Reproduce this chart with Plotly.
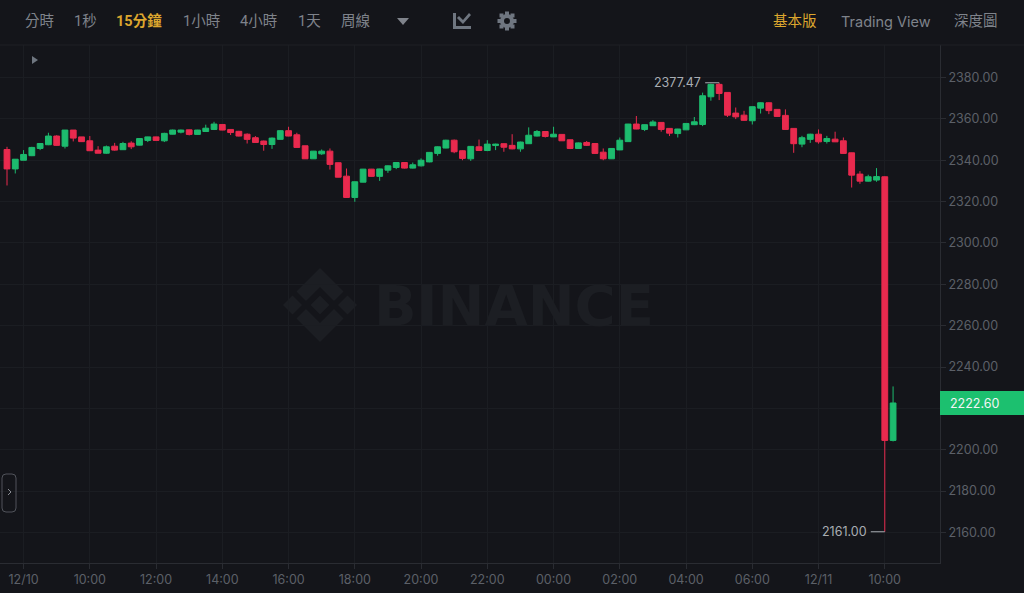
import pandas as pd
import plotly.graph_objects as go

opens = [2345.2,2335.8,2340.0,2342.2,2345.7,2347.5,2351.7,2346.8,2354.6,2351.3,2349.4,2344.9,2343.4,2346.8,2345.1,2348.3,2347.3,2349.6,2351.3,2349.4,2352.6,2353.6,2354.7,2352.5,2353.9,2354.9,2357.3,2354.9,2354.0,
 2352.6,2350.9,2349.3,2347.6,2350.1,2354.3,2352.3,2347.0,2340.7,2343.1,2344.4,2338.8,2332.3,2322.0,2329.4,2335.7,2332.2,2335.2,2336.5,2338.9,2336.2,2337.3,2339.2,2343.3,2345.9,2349.7,2344.6,2340.7,2346.5,
 2344.7,2347.1,2348.0,2347.2,2345.5,2348.0,2351.7,2353.9,2351.3,2352.5,2349.9,2345.7,2348.6,2348.1,2343.9,2340.7,2345.0,2349.0,2357.5,2354.9,2356.7,2358.3,2355.4,2352.9,2354.7,2357.2,2357.3,
 2370.7,2376.7,2372.8,2362.8,2361.8,2359.1,2365.2,2367.8,2364.6,2361.7,2355.4,2347.8,2350.1,2352.6,2349.1,2350.2,2349.4,2343.6,2333.3,2329.9,2330.4,2332.0,2204.5]
closes = [2335.8,2340.5,2342.8,2346.2,2348.1,2351.7,2347.2,2354.6,2350.7,2349.0,2344.6,2343.4,2346.5,2344.9,2348.1,2346.5,2350.5,2351.3,2349.6,2353.0,2354.6,2354.6,2352.5,2354.6,2355.5,2357.5,2354.6,2353.4,2351.7,
 2350.1,2348.6,2347.6,2350.7,2354.3,2351.7,2346.2,2340.7,2344.4,2344.4,2338.0,2331.8,2322.0,2329.6,2335.7,2332.2,2335.8,2337.3,2338.9,2336.2,2337.8,2340.0,2343.8,2346.5,2349.7,2344.1,2340.9,2346.7,2344.7,
 2347.8,2347.8,2346.3,2345.5,2348.8,2352.1,2353.9,2351.5,2352.6,2349.4,2345.7,2348.4,2347.2,2343.3,2340.7,2345.7,2349.7,2357.5,2355.1,2357.2,2358.5,2354.9,2353.1,2355.1,2357.8,2358.6,2371.2,
 2376.7,2372.3,2361.8,2361.0,2359.3,2365.9,2367.8,2364.0,2361.2,2354.9,2348.0,2350.9,2352.6,2348.9,2350.5,2348.9,2343.3,2332.8,2329.9,2332.0,2332.1,2204.5,2222.6]
highs = [2346.5,2340.5,2344.9,2346.5,2348.1,2353.3,2352.1,2354.6,2354.6,2351.3,2351.7,2346.8,2347.1,2348.4,2348.9,2349.2,2350.7,2351.4,2351.4,2353.3,2354.8,2354.8,2354.8,2354.7,2357.2,2358.6,2357.5,2355.0,2354.2,
 2353.0,2351.7,2349.5,2351.0,2354.5,2356.2,2353.3,2347.0,2344.5,2345.2,2345.7,2338.9,2336.0,2329.7,2335.8,2335.8,2335.9,2337.5,2339.1,2339.0,2338.9,2340.9,2344.0,2346.7,2349.9,2350.0,2344.8,2346.8,2350.0,
 2349.7,2348.0,2348.1,2352.6,2349.0,2355.9,2354.6,2354.1,2356.2,2352.7,2350.0,2348.6,2349.3,2348.2,2345.7,2345.8,2351.0,2357.6,2361.4,2357.3,2359.4,2358.5,2355.5,2355.2,2358.0,2360.9,2372.7,
 2377.0,2377.47,2372.9,2365.5,2363.9,2366.0,2368.0,2368.0,2364.7,2364.6,2355.5,2351.8,2352.8,2354.9,2351.8,2353.8,2351.0,2343.7,2334.7,2333.0,2336.2,2332.2,2230.6]
lows = [2327.8,2333.6,2340.0,2342.0,2344.9,2347.3,2347.0,2345.7,2349.1,2348.9,2344.5,2343.4,2343.1,2344.6,2345.0,2345.4,2347.2,2348.8,2349.5,2348.8,2352.5,2353.0,2352.0,2352.4,2353.8,2354.6,2354.5,2352.2,2351.5,
 2348.1,2348.5,2344.6,2345.5,2350.0,2351.6,2346.1,2340.6,2340.6,2342.6,2335.5,2331.7,2321.8,2319.9,2329.3,2332.0,2330.0,2333.9,2335.7,2336.0,2336.0,2337.0,2339.0,2342.2,2345.8,2343.4,2340.0,2339.7,2344.5,
 2344.4,2344.9,2344.1,2345.3,2344.1,2347.9,2351.5,2351.0,2351.2,2349.3,2345.4,2345.6,2346.9,2343.0,2340.0,2340.6,2344.9,2348.9,2355.0,2354.1,2356.6,2353.8,2351.7,2351.0,2354.6,2357.0,2356.5,
 2368.8,2369.1,2360.9,2359.9,2359.1,2357.3,2362.6,2362.3,2361.0,2354.8,2343.6,2346.3,2348.4,2348.0,2348.1,2348.8,2343.2,2326.8,2328.6,2329.7,2329.6,2160.3,2204.0]
times = pd.date_range("2021-12-10 07:30", periods=len(opens), freq="15min")

tick_times = pd.date_range("2021-12-10 08:00", "2021-12-11 10:00", freq="2h")
tick_labels = ["12/10","10:00","12:00","14:00","16:00","18:00","20:00","22:00","00:00","02:00","04:00","06:00","12/11","10:00"]
price_ticks = [2160,2180,2200,2220,2240,2260,2280,2300,2320,2340,2360,2380]
price_labels = ["2160.00","2180.00","2200.00","","2240.00","2260.00","2280.00","2300.00","2320.00","2340.00","2360.00","2380.00"]
toolbar_left = [("分時",39),("1秒",85),("1小時",201),("4小時",258),("1天",309),("周線",355)]
toolbar_right = [("深度圖",976,"#7f838b")]
last_price = "2222.60"
high_label, low_label = "2377.47", "2161.00"

W, H = 1024, 593
L, R, T, B = 0, 84, 45, 30
BG, GRID, AXIS, TXT = "#14151a", "#1b1d22", "#2a2c32", "#5c6068"
RED, GREEN, YEL = "#e92a4e", "#1dbb6e", "#dca62e"
FONT = "Inter, Roboto, 'Noto Sans CJK TC', sans-serif"
CJK = "Roboto, 'Noto Sans CJK TC', sans-serif"

def px(x): return (x - L) / (W - L - R)
def py(y): return 1 - (y - T) / (H - T - B)
def poly(points):
    return "M" + " L".join(f"{px(a):.5f},{py(b):.5f}" for a, b in points) + " Z"

fig = go.Figure(go.Candlestick(
    x=times, open=opens, high=highs, low=lows, close=closes,
    increasing=dict(line=dict(color=GREEN, width=1), fillcolor=GREEN),
    decreasing=dict(line=dict(color=RED, width=1), fillcolor=RED),
    whiskerwidth=0, showlegend=False))

shapes, ann = [], []
def rect(x0, y0, x1, y1, color, line=None, layer="below"):
    shapes.append(dict(type="rect", xref="paper", yref="paper", x0=px(x0), x1=px(x1), y0=py(y0), y1=py(y1),
                       fillcolor=color, line=dict(color=line or color, width=1 if line else 0), layer=layer))
def path(points, color):
    shapes.append(dict(type="path", xref="paper", yref="paper", path=poly(points), fillcolor=color,
                       line=dict(width=0), layer="below"))
def line(x0, y0, x1, y1, color, w=1):
    shapes.append(dict(type="line", xref="paper", yref="paper", x0=px(x0), x1=px(x1), y0=py(y0), y1=py(y1),
                       line=dict(color=color, width=w), layer="above"))
def text(x, y, s, color, size, family=FONT, anchor="center", bold=False):
    ann.append(dict(xref="paper", yref="paper", x=px(x), y=py(y), text=f"<b>{s}</b>" if bold else s, showarrow=False,
                    xanchor=anchor, yanchor="middle", font=dict(color=color, size=size, family=family)))

# toolbar
line(0, 45, 1024, 45, "#1e2025")
for s, x in toolbar_left:
    text(x, 21, s, "#7f838b", 14.5, CJK)
text(139, 21, "15分鐘", YEL, 14.5, CJK, bold=True)
text(795, 22, "基本版", YEL, 14.5, CJK)
text(886, 22, "Trading View", "#7f838b", 14.5, FONT)
for s, x, c in toolbar_right:
    text(x, 22, s, c, 14.5, CJK)
path([(397, 18), (409, 18), (403, 25)], "#7f838b")
# chart icon
ic = "#6f7680"
path([(453, 13), (456, 13), (456, 26), (471, 26), (471, 29), (453, 29)], ic)
path([(457, 18), (459, 16), (463, 20), (469, 13), (471, 15), (463, 24)], ic)
# gear icon
gx, gy = 507, 21
for (a, b) in [(0, -7.5), (0, 7.5), (-7.5, 0), (7.5, 0), (-5.5, -5.5), (5.5, -5.5), (-5.5, 5.5), (5.5, 5.5)]:
    rect(gx + a - 2, gy + b - 2, gx + a + 2, gy + b + 2, ic)
shapes.append(dict(type="circle", xref="paper", yref="paper", x0=px(gx-7), x1=px(gx+7), y0=py(gy-7), y1=py(gy+7),
                   fillcolor=ic, line=dict(width=0), layer="below"))
shapes.append(dict(type="circle", xref="paper", yref="paper", x0=px(gx-3), x1=px(gx+3), y0=py(gy-3), y1=py(gy+3),
                   fillcolor=BG, line=dict(width=0), layer="below"))
path([(32, 56), (38, 60), (32, 64)], "#6f7680")

# watermark
mark = "#1c1e23"
cx, cy = 320, 305
for dx, dy in [(0, 0), (-27.5, 0), (27.5, 0)]:
    path([(cx+dx, cy+dy-9.5), (cx+dx+9.5, cy+dy), (cx+dx, cy+dy+9.5), (cx+dx-9.5, cy+dy)], mark)
for s in (-1, 1):
    path([(cx, cy+s*37), (cx+23.5, cy+s*13.5), (cx+14, cy+s*4), (cx, cy+s*18), (cx-14, cy+s*4), (cx-23.5, cy+s*13.5)], mark)
text(514, 305, "BINANCE", mark, 56, "'DejaVu Sans', sans-serif", bold=True)

# side button
shapes.append(dict(type="path", xref="paper", yref="paper", layer="above", line=dict(color="#50535a", width=1),
                   path=f"M{px(6)},{py(474)} L{px(12)},{py(474)} Q{px(16)},{py(474)} {px(16)},{py(478)} L{px(16)},{py(508)} "
                        f"Q{px(16)},{py(512)} {px(12)},{py(512)} L{px(6)},{py(512)} Q{px(2)},{py(512)} {px(2)},{py(508)} "
                        f"L{px(2)},{py(478)} Q{px(2)},{py(474)} {px(6)},{py(474)} Z"))
line(8, 489, 11, 492, "#8a8d94"); line(11, 492, 8, 495, "#8a8d94")

# current price tag
rect(940, 391, 1024, 415, "#1cc06f", layer="above")
text(975, 403, last_price, "#f2f4f5", 12.5)

# high/low markers
hi, lo = max(highs), min(lows)
for value, when, label in ((hi, times[highs.index(hi)], high_label), (lo, times[lows.index(lo)], low_label)):
    shapes.append(dict(type="line", xref="x", yref="y", xsizemode="pixel", xanchor=when, x0=-14, x1=0, y0=value, y1=value,
                       line=dict(color="#a9adb3", width=1), layer="above"))
    ann.append(dict(xref="x", yref="y", x=when, y=value, text=label, showarrow=False, xanchor="right",
                    xshift=-16, yshift=0, font=dict(color="#a9adb3", size=12.5, family=FONT)))

fig.update_layout(
    width=W, height=H, autosize=False,
    margin=dict(l=L, r=R, t=T, b=B, autoexpand=False),
    paper_bgcolor=BG, plot_bgcolor=BG, boxgap=0.3, boxgroupgap=0, hovermode=False,
    font=dict(family=FONT, color=TXT, size=13),
    shapes=shapes, annotations=ann,
    xaxis=dict(type="date", range=["2021-12-10 07:17:19", "2021-12-11 11:40"], rangeslider=dict(visible=False),
               tickmode="array", tickvals=list(tick_times), ticktext=tick_labels, ticks="outside", ticklen=5,
               tickcolor=AXIS, showgrid=True, gridcolor=GRID, gridwidth=1, showline=True, linecolor=AXIS, linewidth=1,
               zeroline=False, tickfont=dict(size=12.5, color=TXT), tickangle=0),
    yaxis=dict(side="right", range=[2145.2, 2395.74], tickmode="array", tickvals=price_ticks, ticktext=price_labels, ticks="outside", ticklen=5,
               tickcolor=AXIS, showgrid=True, gridcolor=GRID, gridwidth=1, showline=True, linecolor=AXIS, linewidth=1,
               zeroline=False, tickfont=dict(size=12.5, color=TXT)),
)
fig.write_html("out.html", config=dict(displayModeBar=False),
               post_script=f"document.body.style.margin='0';document.body.style.background='{BG}';document.documentElement.style.overflow='hidden';")
